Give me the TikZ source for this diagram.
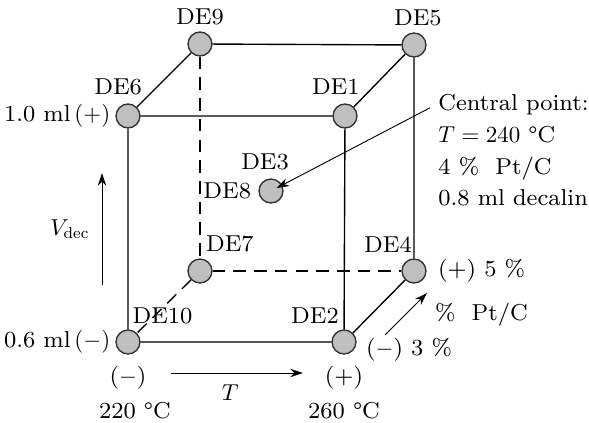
\documentclass[tikz,border=0pt]{standalone}
\usepackage{amsmath}
\usepackage{fontspec}
\setmainfont{lmroman8-regular.otf}[ItalicFont=lmroman8-italic.otf, BoldFont=lmroman8-bold.otf]
\usetikzlibrary{arrows.meta,positioning,calc}

\begin{document}
\begin{tikzpicture}[
  x=0.4345pt, y=-0.4345pt,
  run/.style={circle, draw=black!80, fill=black!25, semithick,
              minimum size=10.4pt, inner sep=0pt},
  lbl/.style={inner sep=2pt},
  edge/.style={semithick},
  hidden/.style={semithick, dash pattern=on 5.5pt off 3.5pt},
  arr/.style={-{Stealth[length=5.5pt, width=3.6pt]}, thin}
]
\useasboundingbox (0,0) rectangle (589,423);

% design points of the cube
\node[run] (de6)  at (128,116) {};
\node[run] (de1)  at (345,116) {};
\node[run] (de2)  at (344,342) {};
\node[run] (de10) at (128,342) {};
\node[run] (de9)  at (200,44) {};
\node[run] (de5)  at (414,45) {};
\node[run] (de4)  at (414,271) {};
\node[run] (de7)  at (200,271) {};
\node[run] (de3)  at (271,191) {};

% edges
\draw[edge] (de6) -- (de1) -- (de2) -- (de10) -- (de6);
\draw[edge] (de6) -- (de9) -- (de5) -- (de1);
\draw[edge] (de5) -- (de4) -- (de2);
\draw[hidden] (de9) -- (de7) -- (de4);
\draw[hidden] (de7) -- (de10);

% run labels
\node[lbl, above=0.6pt of de9] (t9) {DE9};
\node[lbl, above=0.6pt of de5, xshift=1.7pt] (t5) {DE5};
\node[lbl, above=1.5pt of de6, xshift=-4.3pt] (t6) {DE6};
\node[lbl, above=1.5pt of de1, xshift=-4pt] (t1) {DE1};
\node[lbl, above=0.6pt of de7, xshift=13pt] (t7) {DE7};
\node[lbl, above=0.2pt of de10, xshift=15pt] (t10) {DE10};
\node[lbl, above=0.2pt of de2, xshift=-12.6pt] (t2) {DE2};
\node[lbl, above=0.2pt of de4, xshift=-11.3pt] (t4) {DE4};
\node[lbl, above=1.5pt of de3, xshift=-2.6pt] (t3) {DE3};
\node[lbl, left=1pt of de3] (t8) {DE8};

% factor levels
\node[lbl, left=0pt of de6] (vhi) {1.0 ml\,$(+)$};
\node[lbl, left=0pt of de10] (vlo) {0.6 ml\,$(-)$};
\node[lbl, below=3pt of de10] (tlo) {($-$)};
\node[lbl, below=1pt of tlo, xshift=3pt] (t220) {220 \textdegree C};
\node[lbl, below=3pt of de2] (thi) {(+)};
\node[lbl, below=1pt of thi] (t260) {260 \textdegree C};
\node[lbl, right=2.8pt of de4] (phi) {(+) 5 \%};
\node[lbl, right=1.9pt of de2, yshift=-3.5pt] (plo) {($-$) 3 \%};
\node[lbl, anchor=west] (pname) at (430,315) {\%\ \ Pt/C};

% axis arrows
\coordinate (tA) at (171,373);
\coordinate (tB) at (303,373);
\draw[arr] (tA) -- node[lbl, below=3pt, xshift=-3pt] (tT) {$T$} (tB);
\coordinate (vA) at (102,285);
\coordinate (vB) at (102,173);
\draw[arr] (vA) -- node[lbl, left=3.2pt] (tV) {$V_{\mathrm{dec}}$} (vB);
\coordinate (pA) at (385,335);
\coordinate (pB) at (427,293);
\draw[arr] (pA) -- (pB);

% central point
\node[lbl, align=left, anchor=north west] (cp) at (433.4,89.4)
  {Central point:\\[1.8pt]
   $T = 240$~\textdegree C\\[1.8pt]
   4 \%\ \ Pt/C\\[1.8pt]
   0.8 ml decalin};
\draw[arr, shorten >=2.7pt] ([xshift=-1.5pt,yshift=-8pt]cp.north west) -- (de3.center);
\end{tikzpicture}
\end{document}
